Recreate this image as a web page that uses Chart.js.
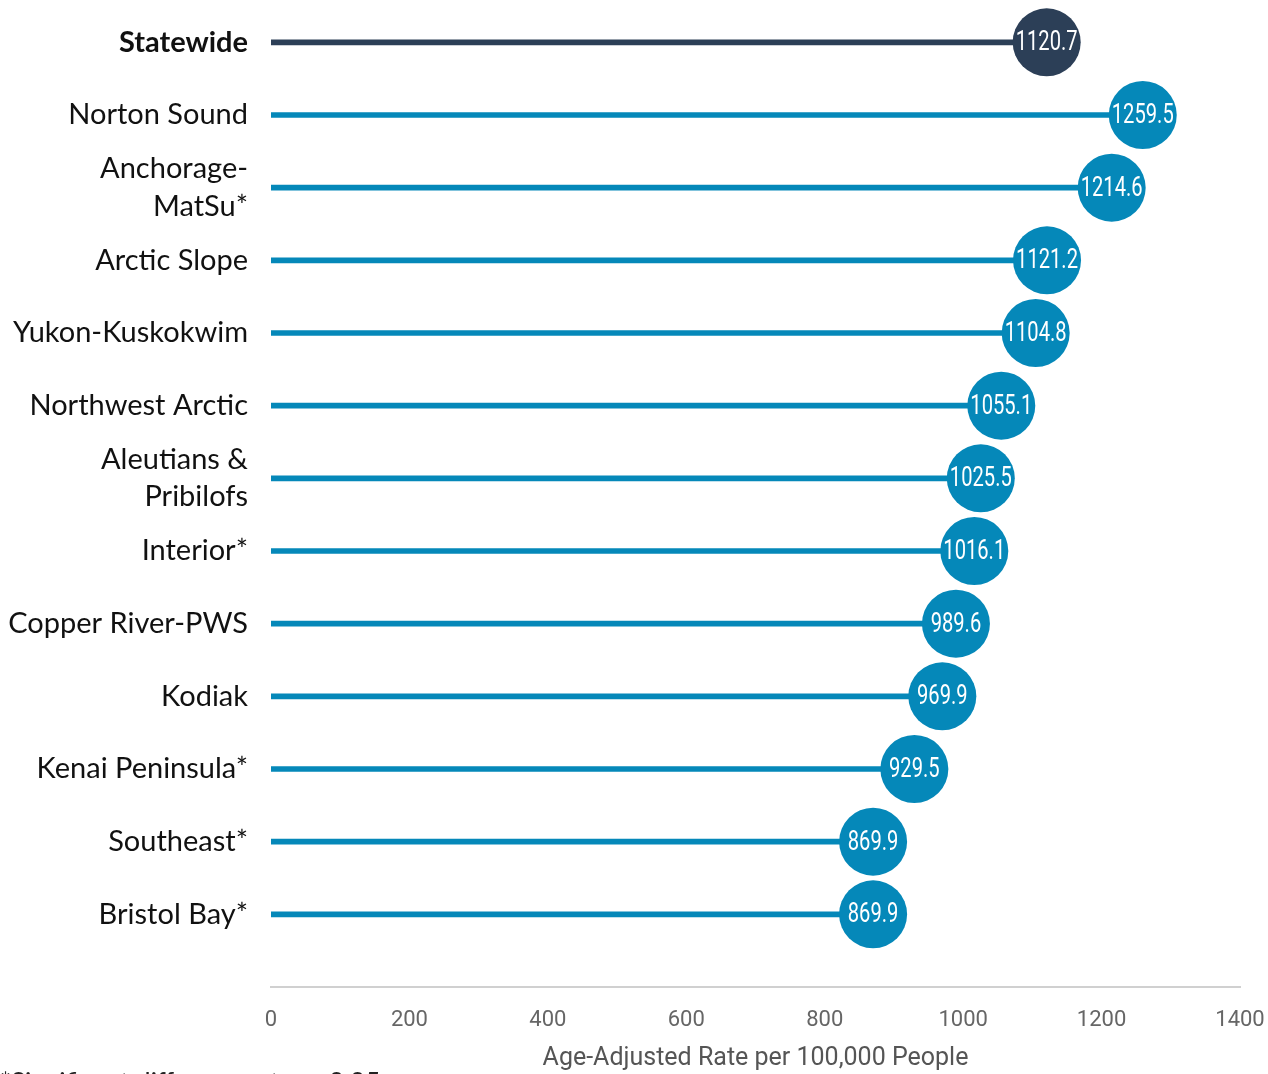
<!DOCTYPE html>
<html>
<head>
<meta charset="utf-8">
<script src="https://cdn.jsdelivr.net/npm/chart.js@4.4.1/dist/chart.umd.min.js"></script>
<style>
  html, body { margin: 0; padding: 0; background: #fff; overflow: hidden; }
  #wrap { position: relative; width: 1268px; height: 1074px; }
  #note { position: absolute; left: 0; top: 1066px; font: 26px Lato, sans-serif; color: #222; white-space: nowrap; }
</style>
</head>
<body>
<div id="wrap">
  <canvas id="chart" width="1268" height="1074"></canvas>
  <div id="note">*Significant difference at p &lt; 0.05</div>
</div>
<script>
const regions = [
  "Statewide",
  "Norton Sound",
  ["Anchorage-", "MatSu*"],
  "Arctic Slope",
  "Yukon-Kuskokwim",
  "Northwest Arctic",
  ["Aleutians &", "Pribilofs"],
  "Interior*",
  "Copper River-PWS",
  "Kodiak",
  "Kenai Peninsula*",
  "Southeast*",
  "Bristol Bay*"
];
const rates = [1120.7, 1259.5, 1214.6, 1121.2, 1104.8, 1055.1, 1025.5, 1016.1, 989.6, 969.9, 929.5, 869.9, 869.9];
const xTicks = [0, 200, 400, 600, 800, 1000, 1200, 1400];

const NAVY = "#2c3f57";
const BLUE = "#0588b9";
const colors = rates.map((v, i) => (i === 0 ? NAVY : BLUE));
const points = rates.map((v, i) => ({ x: v, y: i }));

// white value text inside each circle (squeezed to look condensed)
const valueLabels = {
  id: "valueLabels",
  afterDatasetsDraw(chart) {
    const meta = chart.getDatasetMeta(1);
    const ctx = chart.ctx;
    meta.data.forEach((pt, i) => {
      ctx.save();
      ctx.translate(pt.x, pt.y + 1);
      ctx.scale(0.72, 1);
      ctx.fillStyle = "#fff";
      ctx.font = "28px Roboto, sans-serif";
      ctx.textAlign = "center";
      ctx.textBaseline = "middle";
      ctx.fillText(rates[i].toFixed(1), 0, 0);
      ctx.restore();
    });
  }
};

new Chart(document.getElementById("chart"), {
  type: "bar",
  data: {
    datasets: [
      {
        type: "bar",
        data: points,
        backgroundColor: colors,
        barThickness: 5,
        order: 2
      },
      {
        type: "scatter",
        data: points,
        pointRadius: 34,
        pointHoverRadius: 34,
        pointBackgroundColor: colors,
        pointBorderWidth: 0,
        clip: false,
        order: 1
      }
    ]
  },
  options: {
    indexAxis: "y",
    responsive: false,
    animation: false,
    layout: { autoPadding: false, padding: { top: 6, right: 28, left: 0, bottom: 0 } },
    plugins: {
      legend: { display: false },
      tooltip: { enabled: false }
    },
    scales: {
      x: {
        type: "linear",
        min: 0,
        max: 1400,
        offset: false,
        afterBuildTicks: (axis) => { axis.ticks = xTicks.map((v) => ({ value: v })); },
        afterFit: (axis) => {
          axis.height = 87;
          axis.paddingLeft = 0;
          axis.paddingRight = 0;
        },
        grid: { display: false, drawTicks: false },
        border: { display: true, color: "#d0d0d0", width: 2 },
        ticks: {
          padding: 20,
          color: "#666",
          callback: (v) => String(v),
          font: { family: "Roboto, sans-serif", size: 22 }
        },
        title: {
          display: true,
          text: "Age-Adjusted Rate per 100,000 People",
          color: "#555",
          padding: { top: 8, bottom: 0 },
          font: { family: "Roboto, sans-serif", size: 25 }
        }
      },
      y: {
        type: "linear",
        reverse: true,
        min: -0.5,
        max: 13,
        offset: false,
        afterBuildTicks: (axis) => { axis.ticks = regions.map((r, i) => ({ value: i })); },
        afterFit: (axis) => {
          axis.width = 271;
          axis.paddingTop = 0;
          axis.paddingBottom = 0;
        },
        grid: { display: false, drawTicks: false, offset: false },
        border: { display: false },
        ticks: {
          autoSkip: false,
          padding: 23,
          color: "#111",
          callback: (v) => regions[v],
          font: (ctx) => ({
            family: "Lato, sans-serif",
            size: 29,
            weight: ctx.index === 0 ? "bold" : "normal",
            lineHeight: 1.28
          })
        }
      }
    }
  },
  plugins: [valueLabels]
});
</script>
</body>
</html>
